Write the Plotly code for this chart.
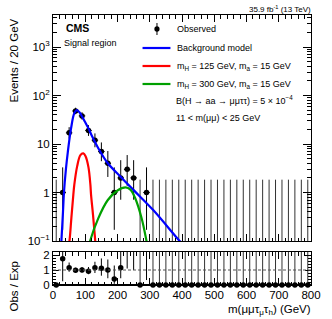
import plotly.graph_objects as go

# ---------------- data ----------------
bin_centers = list(range(10, 800, 20))
observed = [0, 1, 17, 48, 38, 19, 12, 7, 4, 1, 2, 3, 2, 0, 1] + [0] * 25

# Garwood (Poisson) intervals per observed count
garwood_lo = {0: 0.0, 1: 0.83, 2: 1.29, 3: 1.63, 4: 1.91, 7: 2.58, 12: 3.44,
              17: 4.08, 19: 4.32, 38: 6.14, 48: 6.90}
garwood_hi = {0: 1.84, 1: 2.30, 2: 2.64, 3: 2.92, 4: 3.16, 7: 3.77, 12: 4.53,
              17: 5.23, 19: 5.48, 38: 7.23, 48: 7.98}

bkg_x = [24, 26, 31, 34, 40, 46, 56, 66, 74, 82, 90, 100, 110, 120, 140, 170, 210, 250, 310, 390, 400]
bkg_y = [0.06, 0.1, 0.4, 1.0, 3.0, 6.9, 21, 43, 50, 45, 37, 28, 21, 15, 8.3, 4.0, 2.1, 1.12, 0.44, 0.105, 0.09]

sig125_x = [48, 51, 57, 63, 66, 75, 85, 94, 101, 110, 116, 118, 124, 131, 133]
sig125_y = [0.08, 0.1, 0.3, 0.89, 1.43, 3.5, 5.9, 6.4, 5.6, 3.3, 1.43, 0.89, 0.35, 0.1, 0.07]

sig300_x = [112, 115, 140, 170, 200, 225, 240, 255, 275, 290, 293]
sig300_y = [0.08, 0.1, 0.29, 0.7, 1.1, 1.27, 1.15, 0.76, 0.29, 0.1, 0.08]

ratio = [0, 1.75, 1.15, 0.98, 1.0, 0.92, 1.15, 1.12, 1.0, 0.4, 1.15, 2.6, 2.4, 0, 2.4] + [0] * 25
ratio_err_lo = [0, 1.5, 0.27, 0.14, 0.16, 0.2, 0.35, 0.5, 0.55, 0.32, 0.7, 1.5, 1.4, 0, 2.07] + [0] * 25
ratio_err_hi = [0, 4.0, 0.35, 0.17, 0.2, 0.28, 0.4, 0.65, 0.7, 0.9, 1.5, 4.0, 4.0, 9.0, 4.0] + [9.0] * 25

bin_half_width = 10

# ---------------- helpers (layout positions) ----------------
W, H = 332, 319
ML, MR, MT, MB = 53, 11, 15, 34
PW, PH = W - ML - MR, H - MT - MB


def xp(px):
    return (px - ML) / PW


def yp(py):
    return (H - MB - py) / PH


FONT = "Liberation Sans, Arial, Helvetica, sans-serif"
BLUE, RED, GREEN = "#0000ff", "#ff0000", "#00a000"

fig = go.Figure()

# observed, nonzero
nz = [i for i, v in enumerate(observed) if v > 0]
fig.add_trace(go.Scatter(
    x=[bin_centers[i] for i in nz], y=[observed[i] for i in nz], mode="markers",
    marker=dict(color="black", size=5.5),
    error_y=dict(type="data", symmetric=False,
                 array=[garwood_hi[observed[i]] for i in nz],
                 arrayminus=[garwood_lo[observed[i]] for i in nz],
                 color="black", thickness=1, width=0),
    error_x=dict(type="constant", value=bin_half_width, color="black", thickness=1, width=0),
    xaxis="x", yaxis="y", showlegend=False))

# observed, zero bins: only upper error bars
zb = [i for i, v in enumerate(observed) if v == 0]
fig.add_trace(go.Scatter(
    x=[bin_centers[i] for i in zb], y=[1e-3 for i in zb], mode="markers",
    marker=dict(color="black", size=1, opacity=0),
    error_y=dict(type="data", symmetric=False,
                 array=[garwood_hi[0] - 1e-3 for i in zb],
                 arrayminus=[0 for i in zb],
                 color="#333333", thickness=1, width=0),
    xaxis="x", yaxis="y", showlegend=False))

for xs, ys, c in [(bkg_x, bkg_y, BLUE), (sig125_x, sig125_y, RED), (sig300_x, sig300_y, GREEN)]:
    fig.add_trace(go.Scatter(x=xs, y=ys, mode="lines", line=dict(color=c, width=2.2, shape="spline"),
                             xaxis="x", yaxis="y", showlegend=False))

# ratio, nonzero
rnz = [i for i, v in enumerate(ratio) if v > 0]
fig.add_trace(go.Scatter(
    x=[bin_centers[i] for i in rnz], y=[ratio[i] for i in rnz], mode="markers",
    marker=dict(color="black", size=5.5),
    error_y=dict(type="data", symmetric=False,
                 array=[ratio_err_hi[i] for i in rnz],
                 arrayminus=[ratio_err_lo[i] for i in rnz],
                 color="black", thickness=1, width=0),
    xaxis="x2", yaxis="y2", showlegend=False))
# ratio, zero bins: bars (clipped) and markers (unclipped)
rz = [i for i, v in enumerate(ratio) if v == 0]
fig.add_trace(go.Scatter(
    x=[bin_centers[i] for i in rz], y=[ratio[i] for i in rz], mode="markers",
    marker=dict(color="black", size=1, opacity=0),
    error_y=dict(type="data", symmetric=False,
                 array=[ratio_err_hi[i] for i in rz],
                 arrayminus=[0 for i in rz],
                 color="#333333", thickness=1, width=0),
    xaxis="x2", yaxis="y2", showlegend=False))
fig.add_trace(go.Scatter(
    x=[bin_centers[i] for i in rz], y=[ratio[i] for i in rz], mode="markers",
    marker=dict(color="black", size=5.5), cliponaxis=False,
    xaxis="x2", yaxis="y2", showlegend=False))

# ---------------- axes ----------------
tick_font = dict(family=FONT, size=11.5, color="black")
minor_log = [m * 10 ** k for k in range(-1, 4) for m in range(2, 10) if m * 10 ** k < 4500]

common_x = dict(range=[0, 800], showgrid=False, zeroline=False, showline=True, linecolor="black",
                linewidth=1, mirror="allticks", ticks="inside", ticklen=7, tickcolor="black",
                tickwidth=1, dtick=100, tick0=0,
                minor=dict(ticks="inside", ticklen=3.5, dtick=20, tickcolor="black", showgrid=False))

fig.update_layout(
    width=W, height=H, margin=dict(l=ML, r=MR, t=MT, b=MB),
    paper_bgcolor="white", plot_bgcolor="white",
    font=dict(family=FONT, color="black"),
    xaxis=dict(common_x, domain=[0, 1], anchor="y", showticklabels=False),
    yaxis=dict(type="log", range=[-1, 3.66], domain=[(285 - 241) / PH, 1], anchor="x",
               showgrid=False, zeroline=False, showline=True, linecolor="black", linewidth=1,
               mirror="allticks", ticks="inside", ticklen=8, tickcolor="black",
               tickmode="array", tickvals=[0.1, 1, 10, 100, 1000],
               ticktext=["10<sup>−1</sup>", "1", "10", "10<sup>2</sup>", "10<sup>3</sup>"],
               tickfont=tick_font,
               minor=dict(ticks="inside", ticklen=4, tickmode="array", tickvals=minor_log,
                          tickcolor="black", showgrid=False)),
    xaxis2=dict(common_x, domain=[0, 1], anchor="y2", showticklabels=True, tickfont=tick_font,
                ticklabelstandoff=-1),
    yaxis2=dict(range=[0, 2.2], domain=[0, (285 - 252) / PH], anchor="x2", showgrid=False,
                zeroline=False, showline=True, linecolor="black", linewidth=1, mirror="allticks",
                ticks="inside", ticklen=6, tickcolor="black", tickvals=[0, 1, 2], tickfont=tick_font,
                minor=dict(ticks="inside", ticklen=3, dtick=0.2, tickcolor="black", showgrid=False)),
)

# ratio reference line
fig.add_shape(type="line", xref="x2", yref="y2", x0=0, x1=800, y0=1, y1=1,
              line=dict(color="#555555", width=1, dash="3px,2px"))
fig.add_shape(type="line", xref="x2", yref="y2", x0=0, x1=800, y0=0, y1=0,
              line=dict(color="black", width=2))

# ---------------- texts ----------------
def ann(text, x, y, size, xanchor="left", yanchor="middle", angle=0):
    fig.add_annotation(text=text, x=xp(x), y=yp(y), xref="paper", yref="paper", showarrow=False,
                       xanchor=xanchor, yanchor=yanchor, textangle=angle,
                       font=dict(family=FONT, size=size, color="black"))


ann("35.9 fb<sup>-1</sup> (13 TeV)", 323, 9, 8, xanchor="right")
ann("<b>CMS</b>", 64, 28, 10.5)
ann("Signal region", 62, 43, 9)
ann("Observed", 180, 29, 9)
ann("Background model", 180, 48, 9)
ann("m<sub>H</sub> = 125 GeV, m<sub>a</sub> = 15 GeV", 180, 66, 9)
ann("m<sub>H</sub> = 300 GeV, m<sub>a</sub> = 15 GeV", 180, 84, 9)
ann("B(H → aa → μμττ) = 5 × 10<sup>−4</sup>", 179, 100, 9)
ann("11 < m(μμ) < 25 GeV", 179, 118, 9)
ann("Events / 20 GeV", 12, 61, 11.5, xanchor="center", angle=-90)
ann("Obs / Exp", 12, 286, 11.5, xanchor="center", angle=-90)
ann("m(μμτ<sub>μ</sub>τ<sub>h</sub>) (GeV)", 323, 310, 11.5, xanchor="right")

# legend symbols
fig.add_shape(type="line", xref="paper", yref="paper", x0=xp(161), x1=xp(161), y0=yp(23), y1=yp(35),
              line=dict(color="black", width=1))
fig.add_shape(type="circle", xref="paper", yref="paper", x0=xp(158.3), x1=xp(163.7), y0=yp(26.3), y1=yp(31.7),
              fillcolor="black", line=dict(color="black", width=0))
for yy, c in [(48, BLUE), (66, RED), (84, GREEN)]:
    fig.add_shape(type="line", xref="paper", yref="paper", x0=xp(146), x1=xp(175), y0=yp(yy), y1=yp(yy),
                  line=dict(color=c, width=2.2))

fig.write_html("out.html", config={"displayModeBar": False},
               post_script="document.body.style.margin='0';document.body.style.overflow='hidden';")
